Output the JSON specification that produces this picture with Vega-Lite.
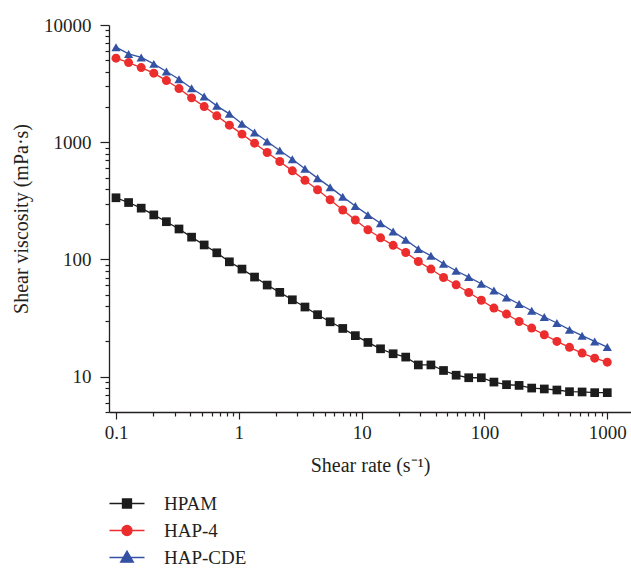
{
"$schema": "https://vega.github.io/schema/vega-lite/v6.json",
"width": 522, "height": 387,
"autosize": {"type": "none"},
"padding": {"left": 109, "top": 25, "right": 0, "bottom": 156},
"background": "white",
"config": {"view": {"stroke": null}, "font": "Liberation Serif"},
"datasets": {
"d": [
{"s":"HPAM","x":0.1,"y":336},{"s":"HPAM","x":0.1266,"y":306},{"s":"HPAM","x":0.1604,"y":274},{"s":"HPAM","x":0.2031,"y":240},{"s":"HPAM","x":0.2572,"y":210},{"s":"HPAM","x":0.3257,"y":182},{"s":"HPAM","x":0.4125,"y":155},{"s":"HPAM","x":0.5224,"y":133},{"s":"HPAM","x":0.6615,"y":114},{"s":"HPAM","x":0.8377,"y":95.5},
{"s":"HPAM","x":1.061,"y":82.8},{"s":"HPAM","x":1.343,"y":70.8},{"s":"HPAM","x":1.701,"y":60.5},{"s":"HPAM","x":2.154,"y":52.4},{"s":"HPAM","x":2.728,"y":45.3},{"s":"HPAM","x":3.455,"y":39.3},{"s":"HPAM","x":4.376,"y":33.8},{"s":"HPAM","x":5.541,"y":29.4},{"s":"HPAM","x":7.017,"y":25.8},{"s":"HPAM","x":8.886,"y":22.4},
{"s":"HPAM","x":11.25,"y":19.6},{"s":"HPAM","x":14.25,"y":17.3},{"s":"HPAM","x":18.05,"y":15.7},{"s":"HPAM","x":22.85,"y":14.7},{"s":"HPAM","x":28.94,"y":12.6},{"s":"HPAM","x":36.65,"y":12.6},{"s":"HPAM","x":46.42,"y":11.3},{"s":"HPAM","x":58.78,"y":10.3},{"s":"HPAM","x":74.44,"y":9.8},{"s":"HPAM","x":94.27,"y":9.8},
{"s":"HPAM","x":119.4,"y":9.0},{"s":"HPAM","x":151.2,"y":8.55},{"s":"HPAM","x":191.4,"y":8.43},{"s":"HPAM","x":242.4,"y":8.0},{"s":"HPAM","x":307.0,"y":7.86},{"s":"HPAM","x":388.8,"y":7.7},{"s":"HPAM","x":492.4,"y":7.45},{"s":"HPAM","x":623.6,"y":7.41},{"s":"HPAM","x":789.7,"y":7.31},{"s":"HPAM","x":1000,"y":7.31},
{"s":"HAP-4","x":0.1,"y":5212},{"s":"HAP-4","x":0.1266,"y":4780},{"s":"HAP-4","x":0.1604,"y":4333},{"s":"HAP-4","x":0.2031,"y":3883},{"s":"HAP-4","x":0.2572,"y":3357},{"s":"HAP-4","x":0.3257,"y":2869},{"s":"HAP-4","x":0.4125,"y":2390},{"s":"HAP-4","x":0.5224,"y":2015},{"s":"HAP-4","x":0.6615,"y":1680},{"s":"HAP-4","x":0.8377,"y":1399},
{"s":"HAP-4","x":1.061,"y":1173},{"s":"HAP-4","x":1.343,"y":982},{"s":"HAP-4","x":1.701,"y":817},{"s":"HAP-4","x":2.154,"y":685},{"s":"HAP-4","x":2.728,"y":570},{"s":"HAP-4","x":3.455,"y":473},{"s":"HAP-4","x":4.376,"y":393},{"s":"HAP-4","x":5.541,"y":323},{"s":"HAP-4","x":7.017,"y":264},{"s":"HAP-4","x":8.886,"y":217},
{"s":"HAP-4","x":11.25,"y":179},{"s":"HAP-4","x":14.25,"y":153},{"s":"HAP-4","x":18.05,"y":132},{"s":"HAP-4","x":22.85,"y":114.7},{"s":"HAP-4","x":28.94,"y":96.1},{"s":"HAP-4","x":36.65,"y":82.8},{"s":"HAP-4","x":46.42,"y":70.2},{"s":"HAP-4","x":58.78,"y":60.8},{"s":"HAP-4","x":74.44,"y":52.3},{"s":"HAP-4","x":94.27,"y":44.9},
{"s":"HAP-4","x":119.4,"y":38.5},{"s":"HAP-4","x":151.2,"y":34.2},{"s":"HAP-4","x":191.4,"y":29.6},{"s":"HAP-4","x":242.4,"y":26.0},{"s":"HAP-4","x":307.0,"y":22.8},{"s":"HAP-4","x":388.8,"y":20.0},{"s":"HAP-4","x":492.4,"y":17.8},{"s":"HAP-4","x":623.6,"y":15.9},{"s":"HAP-4","x":789.7,"y":14.4},{"s":"HAP-4","x":1000,"y":13.3},
{"s":"HAP-CDE","x":0.1,"y":6467},{"s":"HAP-CDE","x":0.1266,"y":5670},{"s":"HAP-CDE","x":0.1604,"y":5293},{"s":"HAP-CDE","x":0.2031,"y":4660},{"s":"HAP-CDE","x":0.2572,"y":4007},{"s":"HAP-CDE","x":0.3257,"y":3451},{"s":"HAP-CDE","x":0.4125,"y":2892},{"s":"HAP-CDE","x":0.5224,"y":2453},{"s":"HAP-CDE","x":0.6615,"y":2043},{"s":"HAP-CDE","x":0.8377,"y":1747},
{"s":"HAP-CDE","x":1.061,"y":1435},{"s":"HAP-CDE","x":1.343,"y":1209},{"s":"HAP-CDE","x":1.701,"y":1014},{"s":"HAP-CDE","x":2.154,"y":850},{"s":"HAP-CDE","x":2.728,"y":717},{"s":"HAP-CDE","x":3.455,"y":593},{"s":"HAP-CDE","x":4.376,"y":494},{"s":"HAP-CDE","x":5.541,"y":414},{"s":"HAP-CDE","x":7.017,"y":342},{"s":"HAP-CDE","x":8.886,"y":286},
{"s":"HAP-CDE","x":11.25,"y":240},{"s":"HAP-CDE","x":14.25,"y":204},{"s":"HAP-CDE","x":18.05,"y":173},{"s":"HAP-CDE","x":22.85,"y":147},{"s":"HAP-CDE","x":28.94,"y":123},{"s":"HAP-CDE","x":36.65,"y":107.5},{"s":"HAP-CDE","x":46.42,"y":91.9},{"s":"HAP-CDE","x":58.78,"y":80.1},{"s":"HAP-CDE","x":74.44,"y":70.8},{"s":"HAP-CDE","x":94.27,"y":62.1},
{"s":"HAP-CDE","x":119.4,"y":54.4},{"s":"HAP-CDE","x":151.2,"y":47.4},{"s":"HAP-CDE","x":191.4,"y":41.7},{"s":"HAP-CDE","x":242.4,"y":36.5},{"s":"HAP-CDE","x":307.0,"y":32.3},{"s":"HAP-CDE","x":388.8,"y":28.7},{"s":"HAP-CDE","x":492.4,"y":25.2},{"s":"HAP-CDE","x":623.6,"y":22.4},{"s":"HAP-CDE","x":789.7,"y":20.0},{"s":"HAP-CDE","x":1000,"y":17.9}
]
},
"data": {"name": "d"},
"encoding": {
  "x": {"field": "x", "type": "quantitative",
    "scale": {"type": "log", "domain": [0.0877, 1560], "nice": false},
    "axis": {
      "values": [0.1,0.2,0.3,0.4,0.5,0.6,0.7,0.8,0.9,1,2,3,4,5,6,7,8,9,10,20,30,40,50,60,70,80,90,100,200,300,400,500,600,700,800,900,1000],
      "title": "Shear rate (s⁻¹)", "grid": false,
      "domainColor": "#231f20", "domainWidth": 1.3, "tickColor": "#231f20", "tickWidth": 1.2,
      "tickSize": {"condition": {"test": "indexof([0.1,1,10,100,1000], datum.value) >= 0", "value": 7}, "value": 4},
      "labelExpr": "indexof([0.1,1,10,100,1000], datum.value) >= 0 ? format(datum.value, '~g') : ''",
      "labelFont": "Liberation Serif", "labelFontSize": 19, "labelColor": "#231f20", "labelPadding": 4,
      "labelOverlap": false, "labelFlush": false,
      "titleFont": "Liberation Serif", "titleFontSize": 20, "titleFontWeight": "normal", "titleColor": "#231f20", "titlePadding": 13
    }
  },
  "y": {"field": "y", "type": "quantitative",
    "scale": {"type": "log", "domain": [5, 10000], "nice": false},
    "axis": {
      "values": [5,6,7,8,9,10,20,30,40,50,60,70,80,90,100,200,300,400,500,600,700,800,900,1000,2000,3000,4000,5000,6000,7000,8000,9000,10000],
      "title": "Shear viscosity (mPa·s)", "grid": false,
      "domainColor": "#231f20", "domainWidth": 1.3, "tickColor": "#231f20", "tickWidth": 1.2,
      "tickSize": {"condition": {"test": "indexof([10,100,1000,10000], datum.value) >= 0", "value": 9}, "value": 4},
      "labelExpr": "indexof([10,100,1000,10000], datum.value) >= 0 ? format(datum.value, '~g') : ''",
      "labelFont": "Liberation Serif", "labelFontSize": 19, "labelColor": "#231f20", "labelPadding": 9,
      "labelOverlap": false, "labelFlush": false,
      "titleFont": "Liberation Serif", "titleFontSize": 20, "titleFontWeight": "normal", "titleColor": "#231f20", "titlePadding": 12
    }
  }
},
"layer": [
  {"mark": {"type": "line", "strokeWidth": 1.3},
   "encoding": {
     "color": {"field": "s", "type": "nominal", "scale": {"domain": ["HPAM", "HAP-4", "HAP-CDE"], "range": ["#1c1c1c", "#ec2d2d", "#3452a4"]}, "legend": null}
   }},
  {"mark": {"type": "point", "filled": true, "opacity": 1},
   "encoding": {
     "color": {"field": "s", "type": "nominal", "scale": {"domain": ["HPAM", "HAP-4", "HAP-CDE"], "range": ["#1c1c1c", "#ec2d2d", "#3452a4"]}, "legend": null},
     "shape": {"field": "s", "type": "nominal", "scale": {"domain": ["HPAM", "HAP-4", "HAP-CDE"], "range": ["square", "circle", "triangle-up"]}, "legend": null},
     "size": {"field": "s", "type": "ordinal", "scale": {"domain": ["HPAM", "HAP-4", "HAP-CDE"], "range": [76, 85, 115]}, "legend": null}
   }},
  {"mark": {"type": "point", "filled": true, "opacity": 0},
   "encoding": {
     "fill": {"field": "s", "type": "nominal", "scale": {"domain": ["HPAM", "HAP-4", "HAP-CDE"], "range": ["#1c1c1c", "#ec2d2d", "#3452a4"]},
       "legend": {"title": null, "orient": "none", "legendX": 8.5, "legendY": 469, "direction": "vertical", "padding": 0, "symbolSize": 289, "symbolStrokeWidth": 1.3, "symbolOpacity": 1, "labelFont": "Liberation Serif", "labelFontSize": 19, "labelColor": "#231f20", "labelOffset": 27.5, "rowPadding": 7, "labelLimit": 300}},
     "stroke": {"field": "s", "type": "nominal", "scale": {"domain": ["HPAM", "HAP-4", "HAP-CDE"], "range": ["#1c1c1c", "#ec2d2d", "#3452a4"]},
       "legend": {"title": null, "orient": "none", "legendX": 8.5, "legendY": 469, "direction": "vertical", "padding": 0, "symbolSize": 289, "symbolStrokeWidth": 1.3, "symbolOpacity": 1, "labelFont": "Liberation Serif", "labelFontSize": 19, "labelColor": "#231f20", "labelOffset": 27.5, "rowPadding": 7, "labelLimit": 300}},
     "shape": {"field": "s", "type": "nominal", "scale": {"domain": ["HPAM", "HAP-4", "HAP-CDE"], "range": ["M-2.06,0H2.06M-0.53,-0.53H0.53V0.53H-0.53Z", "M-2.06,0H2.06M-0.59,0A0.59,0.59,0,1,0,0.59,0A0.59,0.59,0,1,0,-0.59,0Z", "M-2.06,0H2.06M0,-0.75L0.75,0.55H-0.75Z"]},
       "legend": {"title": null, "orient": "none", "legendX": 8.5, "legendY": 469, "direction": "vertical", "padding": 0, "symbolSize": 289, "symbolStrokeWidth": 1.3, "symbolOpacity": 1, "labelFont": "Liberation Serif", "labelFontSize": 19, "labelColor": "#231f20", "labelOffset": 27.5, "rowPadding": 7, "labelLimit": 300}}
   }}
],
"resolve": {"scale": {"shape": "independent", "fill": "independent", "stroke": "independent"}}
}
